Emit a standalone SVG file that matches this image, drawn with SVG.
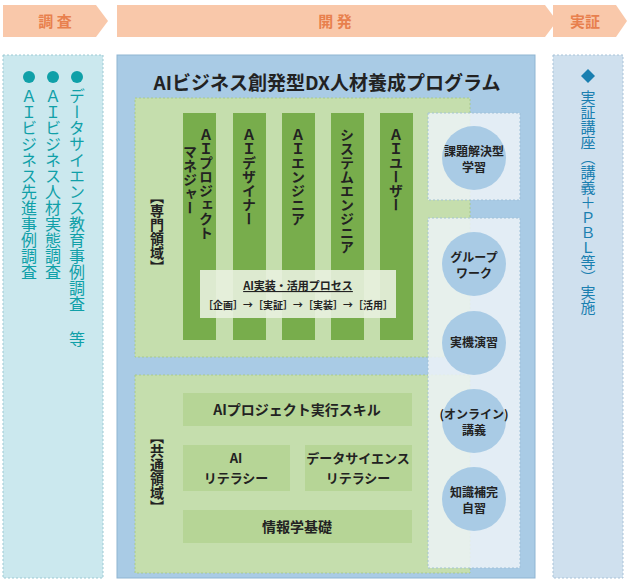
<svg xmlns="http://www.w3.org/2000/svg" width="630" height="580" viewBox="0 0 630 580">
<style>
.h{fill:#f9c8aa}
.ht{font-family:"Noto Sans CJK JP",sans-serif;font-weight:bold;font-size:15px;fill:#e8804e;text-anchor:middle}
.t{font-family:"Noto Sans CJK JP",sans-serif;font-weight:bold;fill:#222}
.col{fill:#78ad4c}
.bar{fill:#b6d596}
.circ{fill:#a9cbe5}
.v{writing-mode:vertical-rl;text-orientation:upright}
.teal{font-family:"Noto Sans CJK JP",sans-serif;font-size:16px;fill:#10a0a8}
.blu{font-family:"Noto Sans CJK JP",sans-serif;font-size:15px;fill:#1a7fb0}
</style>
<rect width="630" height="580" fill="#fff"/>
<g id="headers">
<polygon class="h" points="3,5 96,5 108,21 96,37 3,37"/>
<text class="ht" x="55" y="27">調 査</text>
<polygon class="h" points="117,5 545,5 557,21 545,37 117,37"/>
<text class="ht" x="335" y="27">開 発</text>
<polygon class="h" points="553,5 616,5 627,21 616,37 553,37"/>
<text class="ht" x="585" y="27">実証</text>
</g>
<g id="survey">
<rect x="3" y="55" width="100" height="523" fill="#cbe8ee" stroke="#9cc9d3" stroke-dasharray="2,2"/>
<circle cx="29" cy="77" r="6" fill="#10a0a8"/><circle cx="53" cy="77" r="6" fill="#10a0a8"/><circle cx="77" cy="77" r="6" fill="#10a0a8"/>
<text class="teal v" x="77" y="88">データサイエンス教育事例調査</text>
<text class="teal v" x="53" y="88">ＡＩビジネス人材実態調査</text>
<text class="teal v" x="29" y="88">ＡＩビジネス先進事例調査</text>
<text class="teal" x="77" y="345" font-size="11" text-anchor="middle">等</text>
</g>
<g id="program">
<rect x="117" y="55" width="418" height="523" fill="#a9cbe5" stroke="#8fb5d2"/>
<text class="t" x="327" y="90" font-size="19" text-anchor="middle" fill="#2a4d6e">AIビジネス創発型DX人材養成プログラム</text>
</g>
<g id="senmon">
<rect x="135" y="98" width="335" height="259" fill="#c5dead" stroke="#a8c98d" stroke-dasharray="2,2"/>
<text class="t v" x="157" y="190" font-size="14">【専門領域】</text>
<rect class="col" x="183" y="113" width="33" height="227"/>
<rect class="col" x="233" y="113" width="33" height="227"/>
<rect class="col" x="282" y="113" width="33" height="227"/>
<rect class="col" x="331" y="113" width="33" height="227"/>
<rect class="col" x="380" y="113" width="33" height="227"/>
<text class="t v" x="206" y="128" font-size="14">ＡＩプロジェクト</text>
<text class="t v" x="190" y="145" font-size="14">マネジャー</text>
<text class="t v" x="249" y="128" font-size="14">ＡＩデザイナー</text>
<text class="t v" x="298" y="128" font-size="14">ＡＩエンジニア</text>
<text class="t v" x="347" y="128" font-size="14">システムエンジニア</text>
<text class="t v" x="396" y="128" font-size="14">ＡＩユーザー</text>
<rect x="200" y="270" width="196" height="48" fill="#e8f1df" opacity="0.9"/>
<text class="t" x="298" y="290" font-size="11" text-anchor="middle" text-decoration="underline">AI実装・活用プロセス</text>
<text class="t" x="298" y="309" font-size="10" text-anchor="middle" font-weight="normal">［企画］→［実証］→［実装］→［活用］</text>
</g>
<g id="kyotsu">
<rect x="135" y="375" width="335" height="198" fill="#c5dead" stroke="#a8c98d" stroke-dasharray="2,2"/>
<text class="t v" x="157" y="430" font-size="14">【共通領域】</text>
<rect class="bar" x="183" y="393" width="229" height="33"/>
<text class="t" x="297" y="415" font-size="14" text-anchor="middle">AIプロジェクト実行スキル</text>
<rect class="bar" x="183" y="445" width="107" height="46"/>
<text class="t" x="236" y="463" font-size="13" text-anchor="middle">AI</text>
<text class="t" x="236" y="483" font-size="13" text-anchor="middle">リテラシー</text>
<rect class="bar" x="305" y="445" width="107" height="46"/>
<text class="t" x="358" y="463" font-size="13" text-anchor="middle">データサイエンス</text>
<text class="t" x="358" y="483" font-size="13" text-anchor="middle">リテラシー</text>
<rect class="bar" x="183" y="510" width="229" height="33"/>
<text class="t" x="297" y="532" font-size="14" text-anchor="middle">情報学基礎</text>
</g>
<g id="methods">
<rect x="428" y="113" width="92" height="87" fill="#eef4f8" opacity="0.85" stroke="#9fc0d8" stroke-dasharray="2,2"/>
<rect x="428" y="218" width="92" height="350" fill="#eef4f8" opacity="0.85" stroke="#9fc0d8" stroke-dasharray="2,2"/>
<circle class="circ" cx="474" cy="158" r="32"/>
<text class="t" x="474" y="156" font-size="12" text-anchor="middle" font-weight="normal">課題解決型</text>
<text class="t" x="474" y="172" font-size="12" text-anchor="middle" font-weight="normal">学習</text>
<circle class="circ" cx="474" cy="264" r="32"/>
<text class="t" x="474" y="262" font-size="12" text-anchor="middle" font-weight="normal">グループ</text>
<text class="t" x="474" y="278" font-size="12" text-anchor="middle" font-weight="normal">ワーク</text>
<circle class="circ" cx="474" cy="343" r="32"/>
<text class="t" x="474" y="347" font-size="12" text-anchor="middle" font-weight="normal">実機演習</text>
<circle class="circ" cx="474" cy="421" r="32"/>
<text class="t" x="474" y="419" font-size="12" text-anchor="middle" font-weight="normal">(オンライン)</text>
<text class="t" x="474" y="435" font-size="12" text-anchor="middle" font-weight="normal">講義</text>
<circle class="circ" cx="474" cy="499" r="32"/>
<text class="t" x="474" y="497" font-size="12" text-anchor="middle" font-weight="normal">知識補完</text>
<text class="t" x="474" y="513" font-size="12" text-anchor="middle" font-weight="normal">自習</text>
</g>
<g id="jissho">
<rect x="553" y="55" width="70" height="523" fill="#cfe0ee" stroke="#a9c3d8" stroke-dasharray="2,2"/>
<polygon points="588,69 595,76 588,83 581,76" fill="#1a7fb0"/>
<text class="blu v" x="588" y="90">実証講座（講義＋ＰＢＬ等）実施</text>
</g>
</svg>
